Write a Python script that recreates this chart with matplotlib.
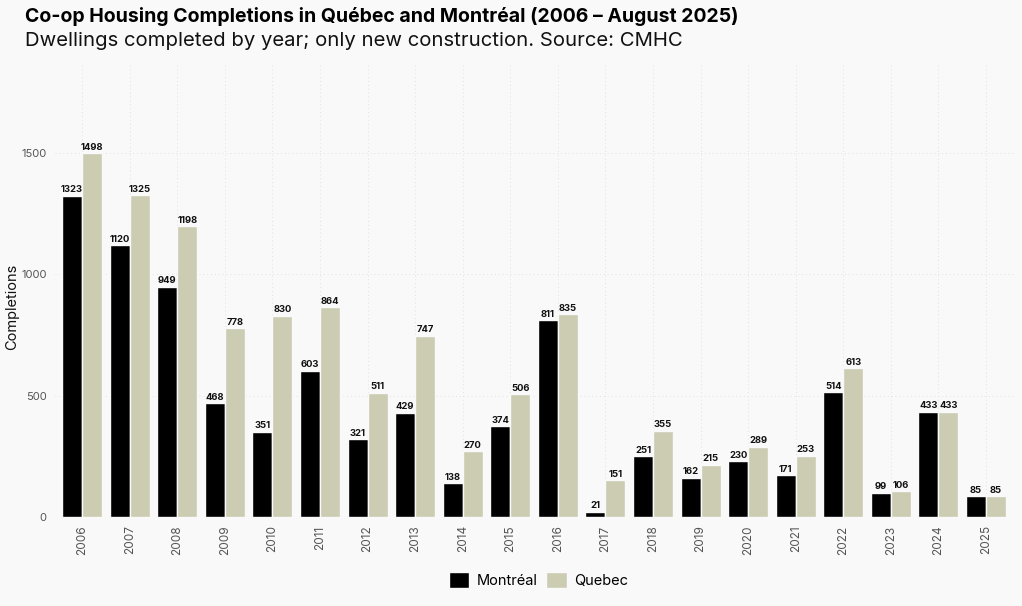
import matplotlib
matplotlib.use("Agg")
import matplotlib.pyplot as plt
import numpy as np
from matplotlib.patches import Patch

years = [str(y) for y in range(2006, 2026)]
montreal = [1323, 1120, 949, 468, 351, 603, 321, 429, 138, 374, 811, 21, 251, 162, 230, 171, 514, 99, 433, 85]
quebec = [1498, 1325, 1198, 778, 830, 864, 511, 747, 270, 506, 835, 151, 355, 215, 289, 253, 613, 106, 433, 85]

plt.rcParams['font.family'] = ['Inter', 'DejaVu Sans']
BG = '#F9F9F9'
C_MTL = '#000000'
C_QC = '#CCCCB3'

fig = plt.figure(figsize=(10.22, 6.06), dpi=100, facecolor=BG)
ax = fig.add_axes([0.0538, 0.1469, 0.9394, 0.7458], facecolor=BG)

x = np.arange(len(years))
w = 0.42
b1 = ax.bar(x - w/2, montreal, w, color=C_MTL, edgecolor=BG, linewidth=1.0, zorder=3)
b2 = ax.bar(x + w/2, quebec, w, color=C_QC, edgecolor=BG, linewidth=1.0, zorder=3)

for bars, vals in ((b1, montreal), (b2, quebec)):
    for r, v in zip(bars, vals):
        ax.text(r.get_x() + r.get_width()/2, v + 6, str(v), ha='center', va='bottom',
                fontsize=6.8, fontweight='bold', color='#111111', zorder=4)

ax.set_xlim(-0.57, 19.61)
ax.set_ylim(0, 1862)
ax.set_yticks([0, 500, 1000, 1500])
ax.set_xticks(x)
ax.set_xticklabels(years, rotation=90, fontsize=8.5, color='#555555')
ax.tick_params(axis='y', labelsize=8, colors='#555555', length=0, pad=6)
ax.tick_params(axis='x', length=0, pad=6)
for s in ax.spines.values():
    s.set_visible(False)
ax.grid(True, linestyle=(0, (1, 3)), color='#E2E2E2', linewidth=0.7, zorder=0)
ax.set_axisbelow(True)
ax.set_ylabel('Completions', fontsize=10.5, color='#111111')
ax.yaxis.set_label_coords(-0.0375, 0.465)

fig.text(0.0245, 0.972, 'Co-op Housing Completions in Québec and Montréal (2006 – August 2025)',
         fontsize=14, fontweight='bold', ha='left', va='center', color='#000000')
fig.text(0.0245, 0.933, 'Dwellings completed by year; only new construction. Source: CMHC',
         fontsize=14.6, ha='left', va='center', color='#111111')

handles = [Patch(facecolor=C_MTL, edgecolor=BG, label='Montréal'),
           Patch(facecolor=C_QC, edgecolor=BG, label='Quebec')]
fig.legend(handles=handles, loc='center', bbox_to_anchor=(0.527, 0.043), ncol=2,
           frameon=False, fontsize=10.5, handlelength=1.4, handleheight=1.4,
           handletextpad=0.5, columnspacing=0.6)

fig.savefig('out.png', dpi=100, facecolor=BG)
